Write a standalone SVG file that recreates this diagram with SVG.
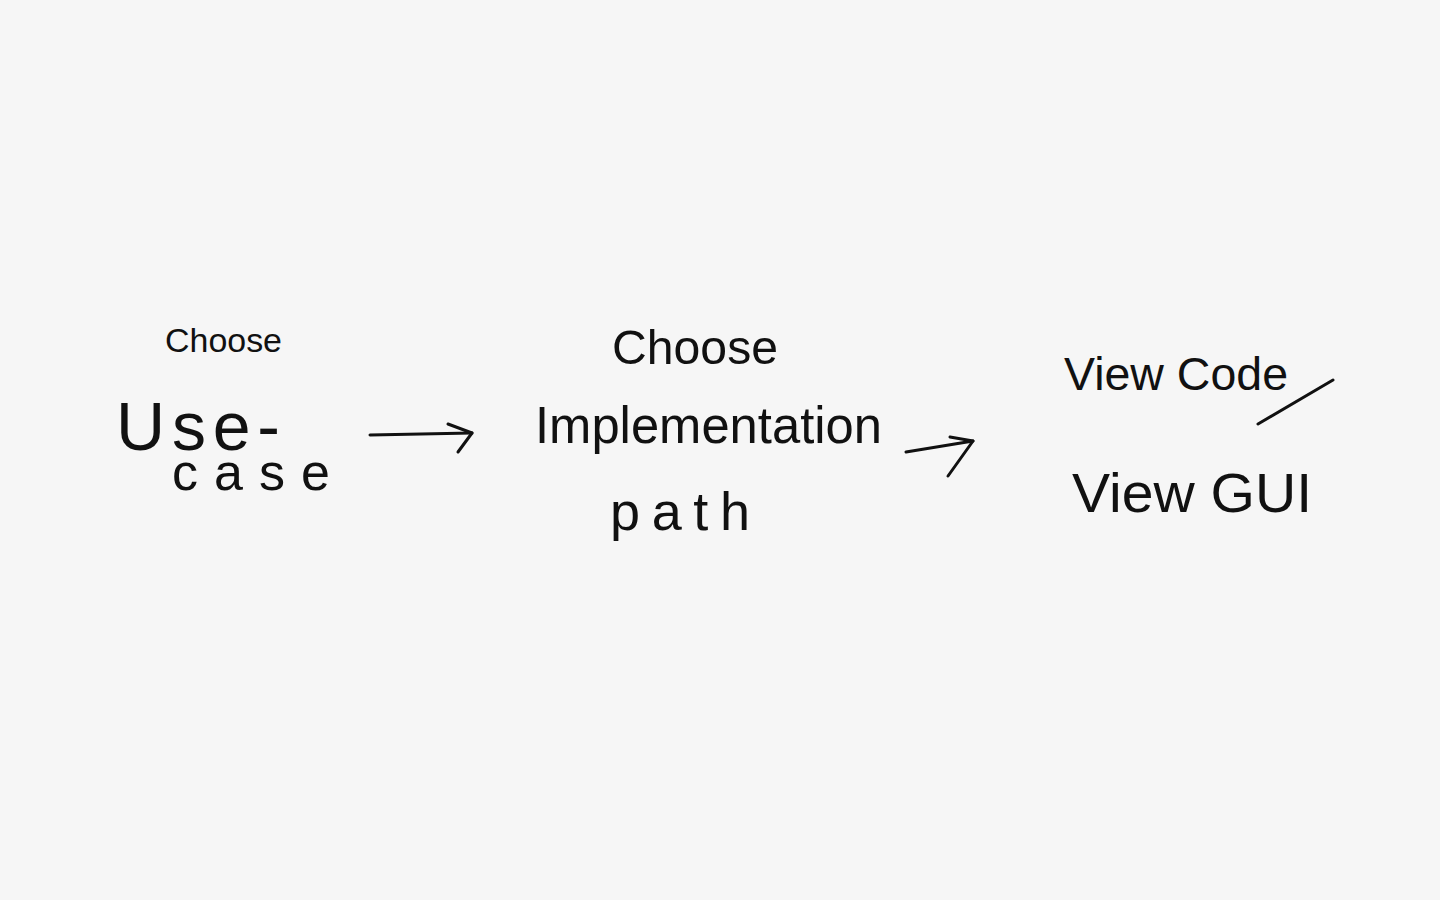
<svg xmlns="http://www.w3.org/2000/svg" width="1440" height="900" viewBox="0 0 1440 900">
<style>
text{font-family:"Liberation Sans","DejaVu Sans",sans-serif;fill:#111;}
.c{stroke:#111;stroke-width:3;fill:none;stroke-linecap:round;stroke-linejoin:round;}
</style>
<rect width="1440" height="900" fill="#f6f6f6"/>
<g id="use-case">
<text x="165" y="352" font-size="34" textLength="117" lengthAdjust="spacingAndGlyphs">Choose</text>
<text font-size="68"><tspan x="116" y="450" textLength="164" lengthAdjust="spacing">Use-</tspan><tspan x="172" y="490" font-size="52" textLength="158" lengthAdjust="spacing">case</tspan></text>
</g>
<g id="implementation-path">
<text x="612" y="364" font-size="48" textLength="166" lengthAdjust="spacingAndGlyphs">Choose</text>
<text x="535" y="443" font-size="52" textLength="347" lengthAdjust="spacingAndGlyphs">Implementation</text>
<text x="610" y="530" font-size="54" textLength="140" lengthAdjust="spacing">path</text>
</g>
<g id="view">
<text x="1064" y="390" font-size="46" textLength="224" lengthAdjust="spacingAndGlyphs">View Code</text>
<text x="1072" y="512" font-size="56" textLength="240" lengthAdjust="spacingAndGlyphs">View GUI</text>
<line class="c" x1="1258" y1="424" x2="1333" y2="380"/>
</g>
<g id="connectors">
<path class="c" d="M370 435 L472 433"/>
<path class="c" d="M448 424 L472 433 L458 452"/>
<path class="c" d="M906 452 L973 441"/>
<path class="c" d="M950 437 L973 441 L948 476"/>
</g>
</svg>
